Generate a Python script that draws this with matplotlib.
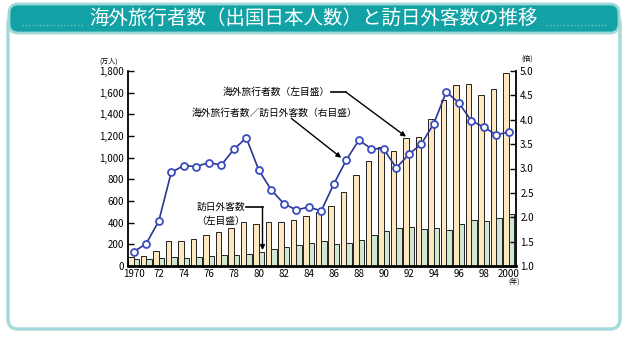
import matplotlib.pyplot as plt
import numpy as np
from matplotlib.patches import FancyBboxPatch

plt.rcParams['font.family'] = ['Noto Sans CJK JP', 'DejaVu Sans']

# 年次データ（万人・倍）
years = list(range(1970, 2001))
outbound = [80, 96, 139, 229, 234, 247, 285, 315, 353, 404,
            391, 406, 409, 423, 466, 495, 552, 683, 843, 966,
            1100, 1063, 1179, 1193, 1358, 1530, 1670, 1680, 1581, 1636,
            1782]
inbound = [62, 66, 72, 79, 76, 81, 92, 103, 104, 111,
           132, 158, 179, 197, 211, 233, 206, 216, 236, 284,
           324, 353, 358, 341, 347, 335, 384, 422, 411, 444,
           476]
ratio = [1.29, 1.46, 1.92, 2.92, 3.06, 3.04, 3.12, 3.07, 3.39, 3.63,
         2.97, 2.56, 2.28, 2.15, 2.21, 2.13, 2.68, 3.17, 3.58, 3.41,
         3.40, 3.01, 3.29, 3.50, 3.92, 4.57, 4.35, 3.98, 3.85, 3.69,
         3.75]
xtick_years = list(range(1970, 2001, 2))
xtick_labels = ['1970'] + [str(y)[2:] for y in xtick_years[1:-1]] + ['2000']
left_ticks = list(range(0, 1801, 200))
right_ticks = [1.0, 1.5, 2.0, 2.5, 3.0, 3.5, 4.0, 4.5, 5.0]

title = '海外旅行者数（出国日本人数）と訪日外客数の推移'

fig = plt.figure(figsize=(6.26, 3.37), dpi=100)

# 背景（ピクセル座標）: 枠とタイトル帯
bg = fig.add_axes([0, 0, 1, 1], zorder=0)
bg.set_xlim(0, 626)
bg.set_ylim(337, 0)
bg.axis('off')
frame = FancyBboxPatch((8, 14), 612, 315, boxstyle='round,pad=0,rounding_size=10',
                       facecolor='white', edgecolor='#a6dbdb', lw=2.5)
bg.add_patch(frame)
band = FancyBboxPatch((9, 4), 610, 29, boxstyle='round,pad=0,rounding_size=9',
                      facecolor='#12a2a6', edgecolor='#9fd6d6', lw=2)
bg.add_patch(band)
bg.plot([22, 84], [25, 25], ls=(0, (1, 1.5)), color='#6fc2c2', lw=1.0)
bg.plot([546, 608], [25, 25], ls=(0, (1, 1.5)), color='#6fc2c2', lw=1.0)
bg.text(314, 18.5, title, color='white', fontsize=14, ha='center', va='center')
bg.text(109, 62, '(万人)', fontsize=5, ha='center', va='center')
bg.text(527, 59, '(倍)', fontsize=5, ha='center', va='center')
bg.text(514, 282, '(年)', fontsize=5, ha='center', va='center')

# メイングラフ
ax = fig.add_axes([128 / 626, 71 / 337, 388 / 626, 195 / 337], zorder=1)
ax.patch.set_alpha(0)
x = np.array(years)
ax.bar(x - 0.22, outbound, width=0.42, color='#fde8c0', edgecolor='#222222', lw=0.7)
ax.bar(x + 0.22, inbound, width=0.42, color='#cfe8cf', edgecolor='#222222', lw=0.7)
ax.set_xlim(1969.54, 2000.58)
ax.set_ylim(0, 1800)
ax.set_yticks(left_ticks)
ax.set_yticklabels([f'{v:,}' for v in left_ticks], fontsize=7)
ax.set_xticks(xtick_years)
ax.set_xticklabels(xtick_labels, fontsize=7)
ax.tick_params(axis='x', length=0, pad=2)
ax.tick_params(axis='y', direction='in', length=4, width=1, pad=3)
ax.spines['top'].set_visible(False)
ax.spines['left'].set_linewidth(1.3)
ax.spines['bottom'].set_linewidth(2)
ax.spines['right'].set_visible(False)

ax2 = ax.twinx()
ax2.plot(years, ratio, color='#2b3592', lw=1.2, marker='o', ms=5,
         mfc='white', mec='#3a4cc0', mew=1.3, zorder=3)
ax2.set_ylim(1.0, 5.0)
ax2.set_yticks(right_ticks)
ax2.set_yticklabels([f'{v:.1f}' for v in right_ticks], fontsize=7)
ax2.tick_params(axis='y', direction='in', length=4, width=1, pad=3)
ax2.spines['top'].set_visible(False)
ax2.spines['left'].set_visible(False)
ax2.spines['bottom'].set_visible(False)
ax2.spines['right'].set_linewidth(1.3)

arrow = dict(arrowstyle='-|>', color='black', lw=1.0, mutation_scale=7,
             shrinkA=0, shrinkB=0)

# 注記: 海外旅行者数（左目盛）
ax.text(1985.7, 1603, '海外旅行者数（左目盛）', fontsize=7, ha='right', va='center')
ax.plot([1985.8, 1987.0], [1603, 1603], color='black', lw=1.2)
ax.annotate('', xy=(1992 - 0.22, outbound[22] + 15), xytext=(1987.0, 1603),
            arrowprops=arrow)

# 注記: 海外旅行者数／訪日外客数（右目盛）
ax2.text(1974.6, 4.14, '海外旅行者数／訪日外客数（右目盛）', fontsize=7,
         ha='left', va='center')
ax2.annotate('', xy=(1986.6, ratio[17] + 0.05), xytext=(1982.6, 4.03),
             arrowprops=arrow)

# 注記: 訪日外客数（左目盛）
ax.text(1978.9, 543, '訪日外客数', fontsize=7, ha='right', va='center')
ax.text(1978.9, 415, '（左目盛）', fontsize=7, ha='right', va='center')
ax.plot([1979.0, 1980.3], [543, 543], color='black', lw=1.2)
ax.annotate('', xy=(1980.3, inbound[10] + 15), xytext=(1980.3, 543),
            arrowprops=arrow)

fig.savefig('out.png', dpi=100)
